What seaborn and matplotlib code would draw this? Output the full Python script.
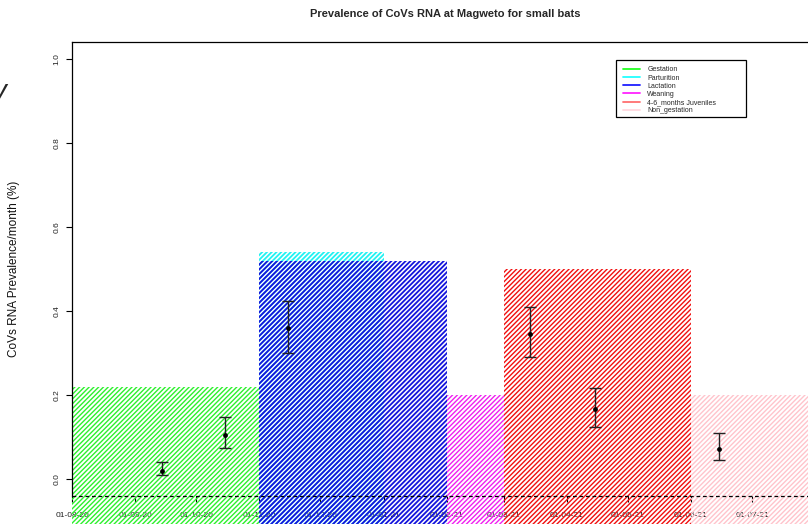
import numpy as np
import pandas as pd
import matplotlib
matplotlib.use("Agg")
import matplotlib.pyplot as plt
import matplotlib.dates as mdates
from matplotlib.lines import Line2D
from matplotlib.patches import Rectangle
import seaborn as sns

# Reproductive phases of the colony (hatched background blocks)
phases = ["Gestation", "Parturition", "Lactation", "Weaning",
          "4-6_months Juveniles", "Non_gestation"]
phase_start = ["2020-08-01", "2020-11-01", "2020-11-01", "2021-02-01",
               "2021-03-01", "2021-06-01"]
phase_end = ["2020-11-01", "2021-01-01", "2021-02-01", "2021-03-01",
             "2021-06-01", "2021-08-01"]
phase_height = [0.22, 0.54, 0.52, 0.20, 0.50, 0.20]
phase_colors = ["#2ef02e", "#22f2f2", "#1414dc", "#f020f0", "#f01010", "#ffc4cc"]
phase_hatch_lw = [1.0, 1.3, 1.3, 1.0, 1.0, 1.0]
legend_colors = ["#22ff22", "#22ffff", "#1f1fff", "#ff22ff", "#ff7070", "#ffd8de"]

# Monthly prevalence estimates with confidence intervals
sample_dates = ["2020-09-14", "2020-10-15", "2020-11-15",
                "2021-03-14", "2021-04-15", "2021-06-15"]
prevalence = [0.020, 0.105, 0.360, 0.346, 0.166, 0.071]
ci_low = [0.010, 0.074, 0.300, 0.290, 0.123, 0.045]
ci_high = [0.040, 0.149, 0.423, 0.409, 0.218, 0.109]

month_ticks = pd.date_range("2020-08-01", "2021-07-01", freq="MS")

sns.set_style("white")
plt.rcParams["font.family"] = ["Liberation Sans", "DejaVu Sans"]
plt.rcParams["hatch.linewidth"] = 1.0

W, H = 808, 524
fig = plt.figure(figsize=(W / 100, H / 100), dpi=100)
ax = fig.add_axes([72 / W, 28 / H, (W - 72) / W, 454 / H])

x0 = mdates.date2num(pd.Timestamp("2020-08-01"))
ax.set_xlim(x0, x0 + (W - 72) / 2.036)
ax.set_ylim(-0.04, 1.04)

# hatched phase blocks, extending below the axis line
base = -0.3
starts = mdates.date2num(pd.to_datetime(phase_start))
ends = mdates.date2num(pd.to_datetime(phase_end))
for s, e, h, c, hl in zip(starts, ends, phase_height, phase_colors, phase_hatch_lw):
    bars = ax.bar(s, h - base, bottom=base, width=e - s, align="edge",
                  facecolor="none", edgecolor=c, hatch="///////", linewidth=0,
                  clip_on=False, zorder=1)
    for p in bars:
        if hasattr(p, "set_hatch_linewidth"):
            p.set_hatch_linewidth(hl)

# prevalence points and intervals
df = pd.DataFrame({
    "date": mdates.date2num(pd.to_datetime(sample_dates)),
    "prev": prevalence,
    "lo": ci_low,
    "hi": ci_high,
})
ax.errorbar(df["date"], df["prev"],
            yerr=[df["prev"] - df["lo"], df["hi"] - df["prev"]],
            fmt="none", ecolor="#222222", elinewidth=1.0, capsize=4.5,
            capthick=1.0, zorder=3)
sns.scatterplot(data=df, x="date", y="prev", ax=ax, color="black", s=12,
                edgecolor="black", linewidth=0, zorder=4, legend=False)

# axis line drawn as dashed rule at the bottom of the plot region
ax.axhline(-0.04, color="black", lw=0.9, ls=(0, (3, 2.2)), zorder=5,
           clip_on=False)

for side in ["right", "bottom"]:
    ax.spines[side].set_visible(False)
for side in ["left", "top"]:
    ax.spines[side].set_color("black")
    ax.spines[side].set_linewidth(0.9)

ax.set_xticks(mdates.date2num(month_ticks))
ax.xaxis.set_major_formatter(mdates.DateFormatter("%d-%m-%y"))
ax.tick_params(axis="x", direction="out", length=4.5, width=0.8,
               colors="black", labelsize=6, pad=7, labelcolor="#222222")
ax.set_yticks([0.0, 0.2, 0.4, 0.6, 0.8, 1.0])
ax.set_yticklabels(["0.0", "0.2", "0.4", "0.6", "0.8", "1.0"],
                   rotation=90, va="center")
ax.tick_params(axis="y", direction="out", length=4.5, width=0.8,
               colors="black", labelsize=6, pad=4, labelcolor="#222222")
ax.tick_params(left=True, bottom=True)
ax.set_xlabel("")
ax.set_ylabel("CoVs RNA Prevalence/month (%)", fontsize=8.5, color="#111111")
ax.yaxis.set_label_coords(-(72 - 20) / (W - 72), 0.5)

fig.text(445 / W, 1 - 14 / H, "Prevalence of CoVs RNA at Magweto for small bats",
         ha="center", va="center", fontsize=8, fontweight="bold")

# legend with a plain rectangular frame
lx0, ly0, lx1, ly1 = 616, 60, 746, 117
fig.patches.append(Rectangle((lx0 / W, 1 - ly1 / H), (lx1 - lx0) / W,
                             (ly1 - ly0) / H, transform=fig.transFigure,
                             facecolor="white", edgecolor="black", lw=0.9,
                             zorder=10))
handles = [Line2D([0], [0], color=c, lw=1.3) for c in legend_colors]
leg = fig.legend(handles, phases, loc="upper left",
                 bbox_to_anchor=(622 / W, 1 - 65 / H), frameon=False,
                 fontsize=5, handlelength=2.45, handletextpad=1.0,
                 labelspacing=0.17, borderpad=0.2, borderaxespad=0)
leg.set_zorder(11)

fig.text(6 / W, 1 - 92 / H, "y", fontsize=20, ha="right", va="center",
         style="italic")

fig.savefig("out.png", dpi=100)
